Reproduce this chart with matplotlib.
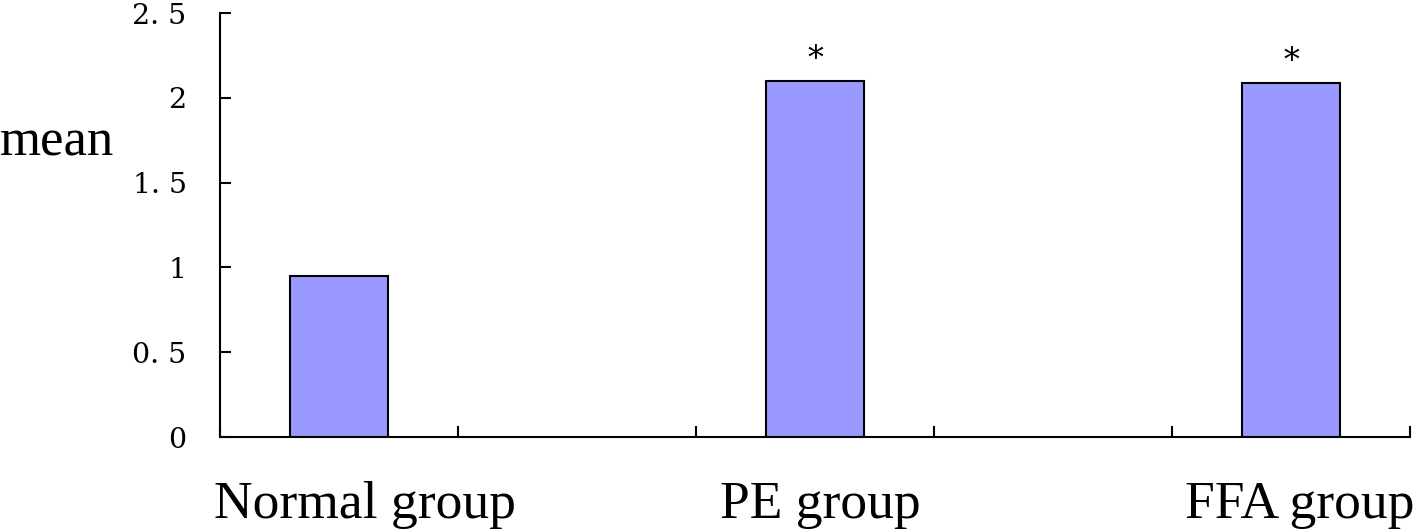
import numpy as np
import matplotlib.pyplot as plt

groups = ["Normal group", "PE group", "FFA group"]
means = [0.95, 2.10, 2.09]
marks = ["", "*", "*"]
slots = [0, 2, 4]          # 5 category slots, slots 1 and 3 left empty
yticks = [0, 0.5, 1, 1.5, 2, 2.5]
ytick_labels = ["0", "0. 5", "1", "1. 5", "2", "2. 5"]
label_shift = [19, 4, 6]   # pt nudge of the category labels

fig = plt.figure(figsize=(14.24, 5.30), dpi=100)
ax = fig.add_axes([220 / 1424, 1 - 437 / 530, 1190 / 1424, 424 / 530])

ax.bar(slots, means, width=0.41, color="#9999ff", edgecolor="black", linewidth=1.5)

for x, m, s in zip(slots, means, marks):
    if s:
        ax.annotate(s, (x, m), xytext=(0, 4), textcoords="offset points",
                    ha="center", va="bottom", fontsize=23, family="DejaVu Serif")

ax.set_xlim(-0.5, 4.5)
ax.set_ylim(0, 2.5)

# boundary ticks between slots, labels under the bars
ax.set_xticks(np.arange(-0.5, 5, 1))
ax.set_xticklabels([])
ax.tick_params(axis="x", direction="in", length=8, width=1.5)
for x, g, dx in zip(slots, groups, label_shift):
    ax.annotate(g, (x, 0), xycoords=("data", "axes fraction"),
                xytext=(dx, -32), textcoords="offset points",
                ha="center", va="top", family="Liberation Serif", fontsize=38.5,
                annotation_clip=False)

ax.set_yticks(yticks)
ax.set_yticklabels(ytick_labels, family="DejaVu Serif", fontsize=20.5)
ax.tick_params(axis="y", direction="in", length=8, width=1.5, pad=24)

for sp in ["top", "right"]:
    ax.spines[sp].set_visible(False)
for sp in ["left", "bottom"]:
    ax.spines[sp].set_linewidth(1.5)

fig.text(57 / 1424, 1 - 143 / 530, "mean", ha="center", va="center",
         family="Liberation Serif", fontsize=38)

fig.savefig("out.png", dpi=100)
